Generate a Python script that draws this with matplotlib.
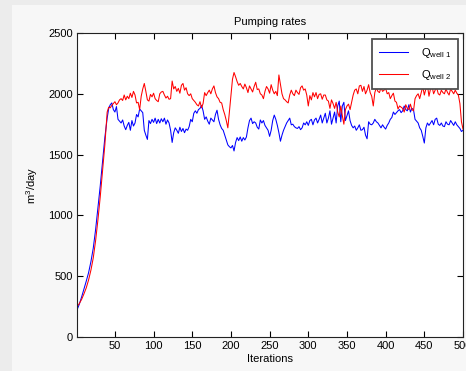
import matplotlib
matplotlib.use("Agg")
import matplotlib.pyplot as plt
from matplotlib.patches import Rectangle

plt.rcParams['font.family'] = ['Liberation Sans', 'DejaVu Sans']
plt.rcParams['mathtext.fontset'] = 'custom'
plt.rcParams['mathtext.rm'] = 'Liberation Sans'
plt.rcParams['mathtext.it'] = 'Liberation Sans:italic'

iterations = list(range(1, 41, 3)) + list(range(42, 501, 2))

q_well1 = [
    222, 270, 330, 395, 460, 530, 620, 730, 880, 1060, 1240, 1440, 1640, 1800,
    1880, 1910, 1925, 1870, 1850, 1895, 1790, 1775, 1760, 1785,
    1735, 1705, 1740, 1765, 1700, 1780, 1735, 1760, 1830, 1810,
    1875, 1860, 1845, 1700, 1660, 1625, 1780, 1755, 1790, 1765,
    1800, 1755, 1790, 1760, 1795, 1770, 1800, 1750, 1785, 1760,
    1700, 1600, 1680, 1720, 1700, 1675, 1725, 1690, 1715, 1680,
    1710, 1700, 1730, 1790, 1770, 1840, 1860, 1840, 1870, 1880,
    1905, 1860, 1790, 1810, 1775, 1750, 1800, 1785, 1770, 1830,
    1865, 1790, 1745, 1715, 1700, 1660, 1620, 1580, 1565, 1555,
    1575, 1530, 1600, 1640, 1615, 1645, 1610, 1640, 1620, 1645,
    1720, 1780, 1800, 1755, 1770, 1760, 1725, 1710, 1785, 1760,
    1780, 1740, 1720, 1700, 1650, 1700, 1780, 1825, 1790, 1740,
    1680, 1610, 1660, 1700, 1730, 1760, 1780, 1800, 1745, 1750,
    1730, 1720, 1715, 1730, 1705, 1720, 1760, 1745, 1770, 1740,
    1780, 1790, 1745, 1785, 1800, 1760, 1790, 1825, 1760, 1800,
    1840, 1760, 1800, 1860, 1750, 1800, 1850, 1760, 1900, 1940,
    1770, 1900, 1930, 1780, 1820, 1860, 1780, 1740, 1720, 1735,
    1700, 1720, 1745, 1700, 1705, 1725, 1660, 1630, 1770, 1750,
    1745, 1760, 1790, 1770, 1760, 1740, 1720, 1745, 1725, 1710,
    1740, 1760, 1790, 1805, 1850, 1830, 1845, 1860, 1870, 1845,
    1860, 1900, 1870, 1860, 1910, 1850, 1880, 1870, 1790, 1775,
    1760, 1720, 1700, 1650, 1595, 1720, 1760, 1740, 1760, 1780,
    1745, 1790, 1800, 1750, 1740, 1760, 1735, 1730, 1770, 1750,
    1745, 1780, 1760, 1740, 1770, 1745, 1730, 1715, 1690, 1700,
]

q_well2 = [
    250, 275, 310, 355, 405, 470, 550, 650, 790, 960, 1150, 1370, 1580, 1850,
    1890, 1885, 1905, 1920, 1935, 1910, 1925, 1950, 1960, 1945,
    1990, 1950, 1980, 1960, 2005, 1970, 2020, 1990, 1925, 1930,
    1870, 1980, 2040, 2085, 2020, 1950, 1940, 1995, 1975, 2005,
    1960, 1945, 1935, 2000, 2015, 2020, 1990, 1965, 1980, 1955,
    1960, 2105, 2040, 2060, 2020, 2045, 2005, 2070, 2085, 2030,
    2050, 2000, 1985, 2000, 1960, 1945, 1930, 1910, 1900, 1935,
    1885, 1920, 2010, 1985, 2010, 2030, 2000, 2040, 2065, 2010,
    1975, 1960, 1930, 1925, 1870, 1830, 1780, 1720, 1850, 1990,
    2120, 2175, 2140, 2100, 2070, 2085, 2060, 2040, 2080, 2050,
    2010, 2065, 2040, 2015, 2060, 2095, 2035, 2040, 2000, 1990,
    1960, 2020, 2060, 2040, 2005, 2075, 2030, 2000, 2020, 1985,
    2155, 2080, 2000, 1960, 1950, 1935, 1925, 1990, 2030, 2000,
    1985, 2030, 2010, 1995, 2050, 2065, 2030, 2040, 1990, 1900,
    1985, 1950, 2010, 1975, 2010, 1960, 1995, 2000, 1955, 1990,
    1990, 1950, 1940, 1880, 1950, 1920, 1880, 1930, 1850, 1810,
    1900, 1820, 1750, 1870, 1900, 1915, 1870, 1930, 1990, 2030,
    2040, 2000, 2065, 2070, 2020, 2060, 2000, 2030, 2075, 2010,
    1980, 1900, 2010, 2050, 2020, 2010, 2050, 2020, 2030, 2045,
    2000, 2010, 1960, 1985, 2005, 1940, 1930, 1875, 1900, 1890,
    1880, 1850, 1910, 1880, 1870, 1915, 1870, 1860, 1960, 1985,
    2000, 1960, 2010, 2060, 1990, 2040, 2070, 1980, 2040, 2060,
    2000, 2030, 2050, 2000, 1990, 2030, 2010, 2000, 2040, 2010,
    1990, 2040, 2020, 2000, 2030, 2005, 1990, 1920, 1770, 1710,
]

series_labels = [r'Q$_{\rm well\ 1}$', r'Q$_{\rm well\ 2}$']
x_ticks = [50, 100, 150, 200, 250, 300, 350, 400, 450, 500]
y_ticks = [0, 500, 1000, 1500, 2000, 2500]

W, H = 466, 371
fig = plt.figure(figsize=(W / 100, H / 100), dpi=100)
fig.patch.set_facecolor('#ececec')
bg = Rectangle((12 / W, 0), 1 - 12 / W, 1 - 5 / H,
               transform=fig.transFigure, facecolor='#f7f7f7',
               edgecolor='none', zorder=-10)
fig.patches.append(bg)

ax = fig.add_axes([77 / W, 34 / H, 386 / W, 304 / H])
ax.set_zorder(1)
ax.set_facecolor('white')
ax.plot(iterations, q_well1, color='#0000ff', lw=0.75, label=series_labels[0])
ax.plot(iterations, q_well2, color='#ff0000', lw=0.75, label=series_labels[1])

ax.set_xlim(1, 500)
ax.set_ylim(0, 2500)
ax.set_xticks(x_ticks)
ax.set_yticks(y_ticks)
ax.tick_params(direction='in', length=4, width=0.8, top=True, right=True,
               labelsize=8, colors='black', pad=3)
for s in ax.spines.values():
    s.set_linewidth(0.8)
    s.set_color('#222222')

ax.set_title('Pumping rates', fontsize=8, pad=6)
ax.set_xlabel('Iterations', fontsize=8, labelpad=2)
ax.set_ylabel('m$^3$/day', fontsize=8, labelpad=6)

leg = ax.legend(loc='upper right', bbox_to_anchor=((458 - 77) / 386, (337 - 39) / 304),
                borderaxespad=0, fancybox=False, fontsize=8, handlelength=2.6,
                handletextpad=1.2, labelspacing=0.75, borderpad=0.6, framealpha=1)
leg.get_frame().set_edgecolor('#505050')
leg.get_frame().set_linewidth(1.3)

fig.savefig('out.png', dpi=100, facecolor=fig.get_facecolor())
